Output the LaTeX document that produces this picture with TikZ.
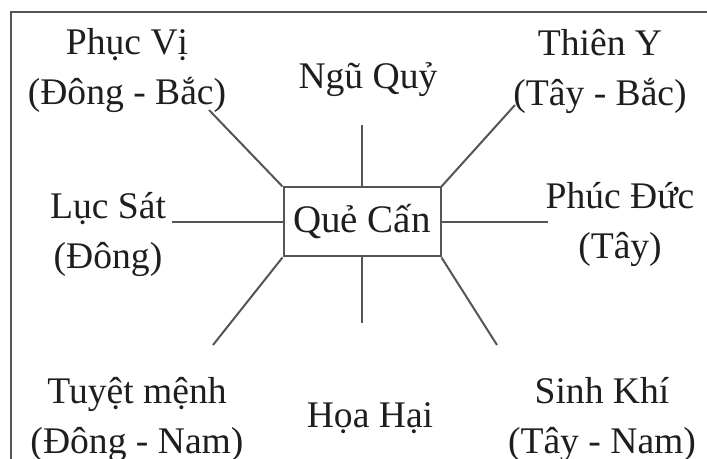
\documentclass[tikz,border=0pt]{standalone}
\usepackage{fontspec}
\setmainfont{Liberation Serif}
\definecolor{inkgray}{HTML}{1E1E1E}
\definecolor{linegray}{HTML}{555555}
\usetikzlibrary{positioning}

\begin{document}
\begin{tikzpicture}[x=0.5pt, y=-0.5pt,
  box/.style={draw=linegray, line width=1pt, minimum width=78.5pt, minimum height=34.5pt,
              inner sep=0pt, font=\fontsize{19.5}{25}\selectfont, text=inkgray},
  lbl/.style={align=center, inner sep=0pt, font=\fontsize{18.8}{25}\selectfont, text=inkgray},
  ray/.style={draw=linegray, line width=1pt}]
  \useasboundingbox (0,0) rectangle (707,459);
  % frame
  \draw[ray] (11,470) -- (11,12) -- (720,12);
  \node[box] (que) at (362,222) {Quẻ Cấn};
  % labels
  \node[lbl] (phucvi) at (127,71) {Phục Vị\\(Đông - Bắc)};
  \node[lbl] (nguquy) at (368,80) {Ngũ Quỷ};
  \node[lbl] (thieny) at (600,71) {Thiên Y\\(Tây - Bắc)};
  \node[lbl] (lucsat) at (108,234) {Lục Sát\\(Đông)};
  \node[lbl] (phucduc) at (620,224) {Phúc Đức\\(Tây)};
  \node[lbl] (tuyetmenh) at (137,419) {Tuyệt mệnh\\(Đông - Nam)};
  \node[lbl] (hoahai) at (370,418) {Họa Hại};
  \node[lbl] (sinhkhi) at (602,419) {Sinh Khí\\(Tây - Nam)};
  % ray ends
  \coordinate (endPV) at (209,110);
  \coordinate (endNQ) at (362,125);
  \coordinate (endTY) at (515,105);
  \coordinate (endLS) at (172,222);
  \coordinate (endPD) at (548,222);
  \coordinate (endTM) at (213,345);
  \coordinate (endHH) at (362,323);
  \coordinate (endSK) at (497,345);
  \draw[ray] (que.north west) -- (endPV);
  \draw[ray] (que.north) -- (endNQ);
  \draw[ray] (que.north east) -- (endTY);
  \draw[ray] (que.west) -- (endLS);
  \draw[ray] (que.east) -- (endPD);
  \draw[ray] (que.south west) -- (endTM);
  \draw[ray] (que.south) -- (endHH);
  \draw[ray] (que.south east) -- (endSK);
\end{tikzpicture}
\end{document}
